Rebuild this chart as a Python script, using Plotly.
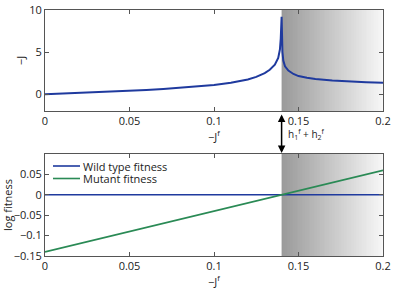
import numpy as np
import plotly.graph_objects as go

# Top panel: -J as a function of -J^f
jf_top = [0, 0.01, 0.02, 0.03, 0.04, 0.05, 0.06, 0.07, 0.08, 0.09, 0.10, 0.11, 0.12,
          0.125, 0.13, 0.133, 0.136, 0.138, 0.139, 0.1395, 0.14, 0.1405, 0.141, 0.142,
          0.144, 0.147, 0.15, 0.155, 0.16, 0.17, 0.18, 0.19, 0.2]
minus_j = [0, 0.07, 0.15, 0.23, 0.31, 0.4, 0.5, 0.62, 0.75, 0.9, 1.1, 1.35, 1.75,
           2.05, 2.5, 2.9, 3.5, 4.3, 5.3, 6.6, 9.2, 5.0, 4.0, 3.3,
           2.8, 2.4, 2.15, 1.95, 1.8, 1.62, 1.5, 1.42, 1.35]

# Bottom panel: log fitness
jf_bottom = [0, 0.2]
wild_type = [0, 0]
mutant = [-0.14, 0.06]
series_names = ["Wild type fitness", "Mutant fitness"]

threshold = 0.14
x_max = 0.2

x_ticks = [0, 0.05, 0.1, 0.15, 0.2]
x_ticktext = ["0", "0.05", "0.1", "0.15", "0.2"]
top_yticks = [0, 5, 10]
bot_yticks = [-0.15, -0.1, -0.05, 0, 0.05]
bot_ytext = ["\u22120.15", "\u22120.1", "\u22120.05", "0", "0.05"]

BLUE = "#1f3a9e"
GREEN = "#2a8a55"
AX = "#555555"
FONT = "Open Sans"

fig = go.Figure()

# gradient shading (heatmap) on both panels
edges = np.linspace(threshold, x_max, 61)
zrow = [list(np.linspace(0, 1, 60))]
shade_scale = [[0, "#9a9a9a"], [1, "#f6f6f6"]]
fig.add_trace(go.Heatmap(x=edges, y=[-2, 10], z=zrow, colorscale=shade_scale,
                         showscale=False, hoverinfo="skip", xaxis="x", yaxis="y"))
fig.add_trace(go.Heatmap(x=edges, y=[-0.15, 0.1], z=zrow, colorscale=shade_scale,
                         showscale=False, hoverinfo="skip", xaxis="x2", yaxis="y2"))

fig.add_trace(go.Scatter(x=jf_top, y=minus_j, mode="lines",
                         line=dict(color=BLUE, width=2), showlegend=False,
                         xaxis="x", yaxis="y"))
fig.add_trace(go.Scatter(x=jf_bottom, y=wild_type, mode="lines", name=series_names[0],
                         line=dict(color=BLUE, width=1.6), showlegend=False,
                         xaxis="x2", yaxis="y2"))
fig.add_trace(go.Scatter(x=jf_bottom, y=mutant, mode="lines", name=series_names[1],
                         line=dict(color=GREEN, width=1.6), showlegend=False,
                         xaxis="x2", yaxis="y2"))

W, H = 395, 291


def px(p):
    return p / W


def py(p):
    return (H - p) / H


xdom = [px(45), px(383)]
top_dom = [py(111), py(10)]
bot_dom = [py(256), py(154)]

axis_common = dict(showline=True, linecolor=AX, linewidth=1, mirror="ticks",
                   ticks="inside", ticklen=4, tickcolor=AX, showgrid=False,
                   zeroline=False, automargin=False, ticklabeloverflow="allow",
                   tickfont=dict(size=11, color="#222"))

fig.update_layout(
    width=W, height=H, margin=dict(l=0, r=0, t=0, b=0),
    paper_bgcolor="white", plot_bgcolor="white",
    font=dict(family=FONT, size=11, color="#222"),
    showlegend=False,
    xaxis=dict(domain=xdom, range=[0, x_max], anchor="y", tickvals=x_ticks,
               ticktext=x_ticktext,
               title=dict(text="\u2212J<sup>f</sup>", standoff=0, font=dict(size=11)),
               **axis_common),
    yaxis=dict(domain=top_dom, range=[-2, 10], anchor="x", tickvals=top_yticks,
               title=dict(text="\u2212J", standoff=1, font=dict(size=11)),
               **axis_common),
    xaxis2=dict(domain=xdom, range=[0, x_max], anchor="y2", tickvals=x_ticks,
                ticktext=x_ticktext,
                title=dict(text="\u2212J<sup>f</sup>", standoff=0, font=dict(size=11)),
                **axis_common),
    yaxis2=dict(domain=bot_dom, range=[-0.15, 0.1], anchor="x2", tickvals=bot_yticks,
                ticktext=bot_ytext,
                title=dict(text="log fitness", standoff=3, font=dict(size=11)),
                **axis_common),
)

# manual compact legend (inside bottom panel, top-left)
legend_colors = [BLUE, GREEN]
for i, (name, col) in enumerate(zip(series_names, legend_colors)):
    yp = py(166 + 12.5 * i)
    fig.add_shape(type="line", xref="paper", yref="paper",
                  x0=px(53), x1=px(80), y0=yp, y1=yp,
                  line=dict(color=col, width=1.6))
    fig.add_annotation(x=px(81), y=yp, xref="paper", yref="paper",
                       xanchor="left", yanchor="middle", showarrow=False,
                       text=name, font=dict(size=11, color="#222"))

# double-headed arrow between panels
fig.add_annotation(x=threshold, y=py(153), xref="x", yref="paper",
                   ax=0, ay=-40, axref="pixel", ayref="pixel",
                   showarrow=True, arrowhead=2, startarrowhead=2, arrowside="end+start",
                   arrowwidth=1.5, arrowsize=1, startarrowsize=1, arrowcolor="black", text="")
fig.add_annotation(x=threshold, y=py(134), xref="x", yref="paper",
                   xanchor="left", yanchor="middle", xshift=4, showarrow=False,
                   text="h<sub>1</sub><sup>f</sup> + h<sub>2</sub><sup>f</sup>",
                   font=dict(size=10, color="#222"))

fig.write_html(
    "out.html",
    config={"displayModeBar": False},
    post_script=("document.documentElement.style.margin='0';"
                 "document.documentElement.style.overflow='hidden';"
                 "document.body.style.margin='0';"
                 "document.body.style.padding='0';"
                 "document.body.style.overflow='hidden';"),
)
